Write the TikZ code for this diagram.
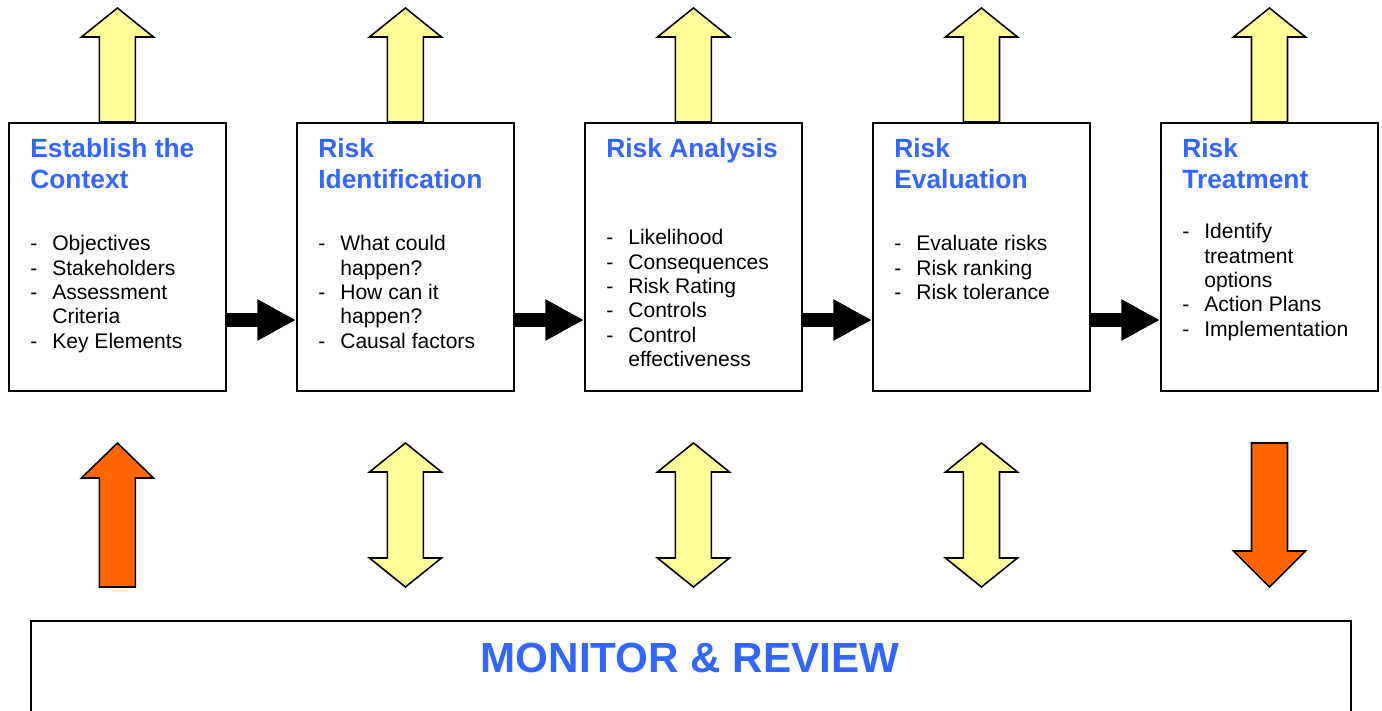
\documentclass[tikz,border=0pt]{standalone}
\usepackage{fontspec}
\setmainfont{Liberation Sans}
\usetikzlibrary{arrows.meta,calc}

\definecolor{riskblue}{HTML}{3366FF}
\definecolor{paleyellow}{HTML}{FFFF99}
\definecolor{riskorange}{HTML}{FF6600}

% list items with a dash and a hanging indent
\newcommand\dashitem{\makebox[12.5pt][l]{-}}
\newcommand\dashcont{\hspace*{12.5pt}}

\tikzset{
  stage/.style={draw, line width=1.1pt, minimum width=4.34cm, minimum height=5.36cm,
    anchor=north west, inner sep=0},
  stagetitle/.style={anchor=north west, inner sep=0, align=left, text=riskblue,
    font=\bfseries\fontsize{15}{17.6}\selectfont},
  stagelist/.style={anchor=north west, inner sep=0, align=left,
    font=\fontsize{12}{13.9}\selectfont},
  flow/.style={line width=7.9pt, -{Triangle[length=22pt,width=22pt]}},
  blockarrow/.style={draw, line width=0.9pt, line join=miter, fill=#1},
}

\begin{document}
\begin{tikzpicture}[x=0.02cm, y=-0.02cm]
\useasboundingbox (0,0) rectangle (1382,710);
\clip (0,0) rectangle (1382,710);

% the five stages
\node[stage] (ctx)   at (8,122)    {};
\node[stage] (ident) at (296,122)  {};
\node[stage] (anal)  at (584,122)  {};
\node[stage] (eval)  at (872,122)  {};
\node[stage] (treat) at (1160,122) {};

\node[stagetitle] (ctx-t)   at ($(ctx.north west)+(22,16)$)   {Establish the\\Context};
\node[stagetitle] (ident-t) at ($(ident.north west)+(22,16)$) {Risk\\Identification};
\node[stagetitle] (anal-t)  at ($(anal.north west)+(22,16)$)  {Risk Analysis};
\node[stagetitle] (eval-t)  at ($(eval.north west)+(22,16)$)  {Risk\\Evaluation};
\node[stagetitle] (treat-t) at ($(treat.north west)+(22,16)$) {Risk\\Treatment};

\node[stagelist] (ctx-l) at ($(ctx.north west)+(22,113)$)
  {\dashitem Objectives\\\dashitem Stakeholders\\\dashitem Assessment\\\dashcont Criteria\\\dashitem Key Elements};
\node[stagelist] (ident-l) at ($(ident.north west)+(22,113)$)
  {\dashitem What could\\\dashcont happen?\\\dashitem How can it\\\dashcont happen?\\\dashitem Causal factors};
\node[stagelist] (anal-l) at ($(anal.north west)+(22,107)$)
  {\dashitem Likelihood\\\dashitem Consequences\\\dashitem Risk Rating\\\dashitem Controls\\\dashitem Control\\\dashcont effectiveness};
\node[stagelist] (eval-l) at ($(eval.north west)+(22,113)$)
  {\dashitem Evaluate risks\\\dashitem Risk ranking\\\dashitem Risk tolerance};
\node[stagelist] (treat-l) at ($(treat.north west)+(22,101)$)
  {\dashitem Identify\\\dashcont treatment\\\dashcont options\\\dashitem Action Plans\\\dashitem Implementation};

% black flow arrows between stages
\draw[flow] (ctx.east |- 0,320)   -- (ident.west |- 0,320);
\draw[flow] (ident.east |- 0,320) -- (anal.west |- 0,320);
\draw[flow] (anal.east |- 0,320)  -- (eval.west |- 0,320);
\draw[flow] (eval.east |- 0,320)  -- (treat.west |- 0,320);

% communicate & consult arrows on top
\foreach \s in {ctx,ident,anal,eval,treat}
  \draw[blockarrow=paleyellow] (\s.north) ++(-18,0) -- ++(0,-85) -- ++(-18,0) -- ++(36,-29)
    -- ++(36,29) -- ++(-18,0) -- ++(0,85) -- cycle;

% monitoring links
\foreach \s in {ident,anal,eval}
  \draw[blockarrow=paleyellow] (\s.south |- 0,443) -- ++(36,29) -- ++(-18,0) -- ++(0,86)
    -- ++(18,0) -- ++(-36,29) -- ++(-36,-29) -- ++(18,0) -- ++(0,-86) -- ++(-18,0) -- cycle;

\draw[blockarrow=riskorange] (ctx.south |- 0,443) -- ++(36,35) -- ++(-18,0) -- ++(0,109)
  -- ++(-36,0) -- ++(0,-109) -- ++(-18,0) -- cycle;
\draw[blockarrow=riskorange] (treat.south |- 0,587) -- ++(36,-36) -- ++(-18,0) -- ++(0,-108)
  -- ++(-36,0) -- ++(0,108) -- ++(-18,0) -- cycle;

% monitor & review box
\node[draw, line width=1.1pt, anchor=north west, minimum width=26.4cm, minimum height=3cm,
  inner sep=0] (monitor) at (30,620) {};
\node[text=riskblue, font=\bfseries\fontsize{24}{28}\selectfont, inner sep=0] (monitor-t)
  at (690,658) {MONITOR \& REVIEW};

\end{tikzpicture}
\end{document}
